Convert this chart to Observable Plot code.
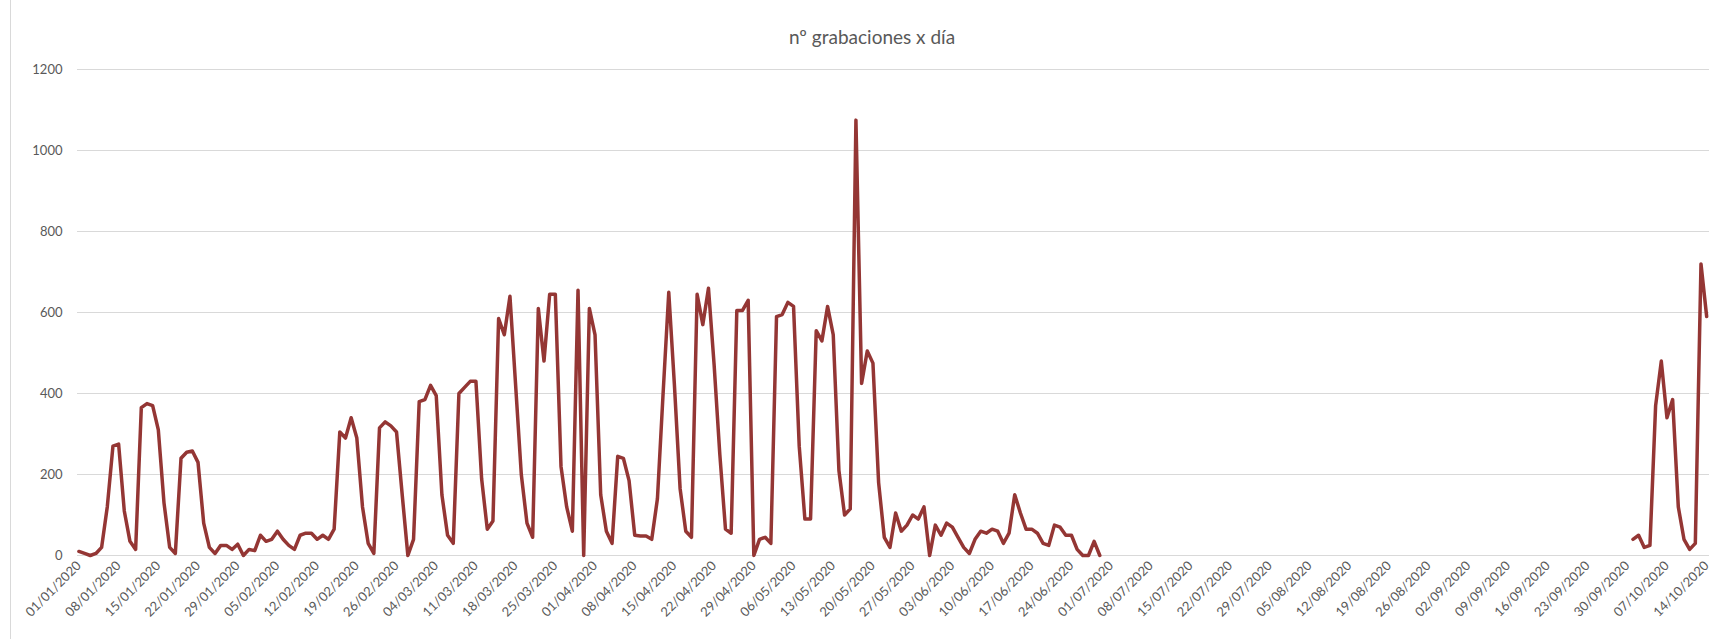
<!DOCTYPE html>
<html>
<head>
<meta charset="utf-8">
<script src="https://cdn.jsdelivr.net/npm/d3@7"></script>
<script src="https://cdn.jsdelivr.net/npm/@observablehq/plot@0.6"></script>
<style>
html, body { margin: 0; padding: 0; background: #fff; }
#wrap { position: relative; width: 1726px; height: 639px; overflow: hidden; font-family: Lato, "Open Sans", sans-serif; }
#frame { position: absolute; left: 10px; top: -2px; width: 1730px; height: 700px; border-left: 1px solid #d9d9d9; box-sizing: border-box; }
#title { position: absolute; left: 9px; top: 25px; width: 1726px; text-align: center; font-size: 19px; line-height: 23px; color: #595959; }
#chart { position: absolute; left: 0; top: 60px; }
</style>
</head>
<body>
<div id="wrap">
  <div id="frame"></div>
  <div id="title">nº grabaciones x día</div>
  <div id="chart"></div>
</div>
<script>
// Daily values 01/01/2020 – 29/06/2020
const startH1 = "2020-01-01";
const valuesJan = [10, 5, 0, 5, 20, 120, 270, 275, 110, 35, 15, 365, 375, 370, 310, 130, 20, 5, 240, 255, 258, 230, 80, 20, 5, 25, 25, 15, 28, 0, 15];
const valuesFeb = [12, 50, 35, 40, 60, 40, 25, 15, 50, 55, 55, 40, 50, 40, 65, 305, 290, 340, 290, 120, 30, 5, 315, 330, 320, 305, 150, 0, 40];
const valuesMar = [380, 385, 420, 395, 150, 50, 30, 400, 415, 430, 430, 190, 65, 85, 585, 545, 640, 420, 200, 80, 45, 610, 480, 645, 645, 220, 120, 60, 655, 0, 610];
const valuesApr = [545, 150, 60, 30, 245, 240, 185, 50, 48, 48, 40, 140, 400, 650, 420, 165, 60, 45, 645, 570, 660, 470, 250, 65, 55, 605, 605, 630, 0, 40];
const valuesMay = [45, 30, 590, 595, 625, 615, 270, 90, 90, 555, 530, 615, 545, 210, 100, 115, 1075, 425, 505, 475, 180, 45, 20, 105, 60, 75, 100, 90, 120, 0, 75];
const valuesJun = [50, 80, 70, 45, 20, 5, 40, 60, 55, 65, 60, 30, 55, 150, 105, 65, 65, 55, 30, 25, 75, 70, 50, 50, 15, 0, 0, 35, 0];
// Daily values 01/10/2020 – 14/10/2020
const startOct = "2020-10-01";
const valuesOct = [40, 50, 20, 25, 370, 480, 340, 385, 120, 40, 15, 30, 720, 590];

const yTicks = [0, 200, 400, 600, 800, 1000, 1200];
const xTickStart = "2020-01-01";
const xTickEnd = "2020-10-15";
const titleText = "nº grabaciones x día";

const valuesH1 = [].concat(valuesJan, valuesFeb, valuesMar, valuesApr, valuesMay, valuesJun);
const d0 = new Date(startH1);
const d1 = new Date(startOct);
const data = valuesH1.map((v, i) => ({date: d3.utcDay.offset(d0, i), value: v}));
data.push({date: d3.utcDay.offset(d0, valuesH1.length), value: NaN});
valuesOct.forEach((v, i) => data.push({date: d3.utcDay.offset(d1, i), value: v}));

const xTicks = d3.utcWednesday.range(new Date(xTickStart), new Date(xTickEnd));
const fmt = d3.utcFormat("%d/%m/%Y");
const lastDate = d3.utcDay.offset(d1, valuesOct.length - 1);

document.getElementById("title").textContent = titleText;

const chart = Plot.plot({
  width: 1726,
  height: 579,
  marginTop: 9,
  marginBottom: 84,
  marginLeft: 77,
  marginRight: 17,
  style: {fontFamily: "Lato, 'Open Sans', sans-serif", fontSize: "13px", color: "#595959", background: "transparent", overflow: "visible"},
  x: {type: "utc", domain: [d3.utcHour.offset(d0, -6), d3.utcHour.offset(lastDate, 12)]},
  y: {domain: [0, 1200]},
  marks: [
    Plot.gridY(yTicks, {stroke: "#d9d9d9", strokeOpacity: 1, strokeWidth: 1}),
    Plot.axisY(yTicks, {tickSize: 0, tickPadding: 15, label: null, tickFormat: d => String(d), fill: "#595959"}),
    Plot.axisX(xTicks, {tickSize: 0, tickPadding: 8, tickRotate: -45, tickFormat: fmt, label: null, fill: "#595959"}),
    Plot.line(data, {x: "date", y: "value", stroke: "#943634", strokeWidth: 3.5, strokeLinejoin: "round", strokeLinecap: "round"})
  ]
});
document.getElementById("chart").appendChild(chart);
</script>
</body>
</html>
